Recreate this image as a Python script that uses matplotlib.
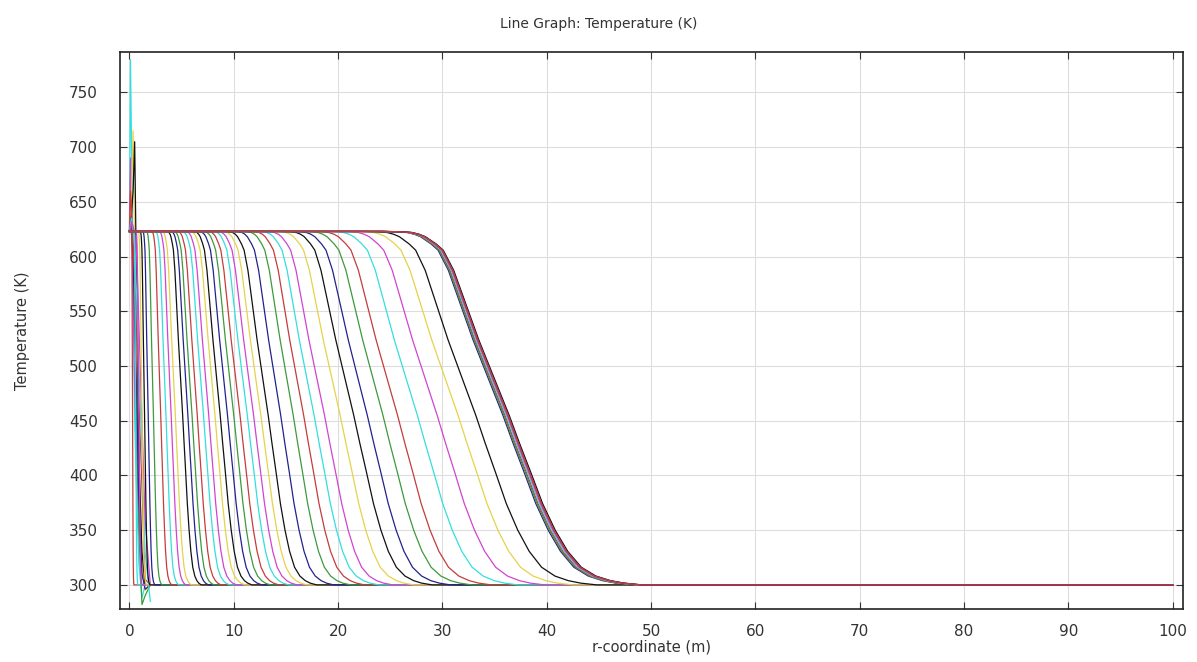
import numpy as np
import matplotlib.pyplot as plt

# colour cycle (blue, green, red, cyan, magenta, yellow, black)
colors = ['#22228c', '#3c9a3c', '#c43c3c', '#33dede', '#d044d0', '#e6d24a', '#111111']

# front positions (r where T ~ 460 K) for the successive curves
fronts = [0.3, 0.6, 0.9, 1.2, 1.45, 1.8, 2.3, 3.0, 3.5, 4.0, 4.4, 5.1, 5.6, 6.0,
          6.5, 7.1, 7.6, 8.2, 8.7, 9.4, 10.0, 10.6, 11.3, 11.9, 12.6, 13.3,
          14.5, 15.7, 16.7, 17.7, 18.7, 20.2, 21.5, 22.8, 24.3, 25.7, 27.6,
          29.5, 31.5, 33.2, 35.8, 35.9, 36.0, 36.1, 36.2, 36.3, 36.4, 36.3]

# shape of the last profile: distance from the front (m) and fraction of the rise
prof_dr = [-12.0, -10.5, -9.3, -8.6, -8.0, -7.0, -6.3, -5.3, -4.3, -2.9, -1.5, 0.0,
           1.0, 2.1, 3.2, 4.4, 5.6, 6.9, 8.3, 9.7, 11.0, 12.7]
prof_f = [1.0, 0.999, 0.997, 0.992, 0.985, 0.965, 0.947, 0.89, 0.808, 0.693, 0.59,
          0.48, 0.40, 0.316, 0.23, 0.155, 0.095, 0.05, 0.025, 0.012, 0.005, 0.0]
front_ref = 36.3

T_hot = 623.0
T_cold = 300.0

# noisy early curves near r = 0
spike_r = [0.0, 0.1, 0.2, 0.35, 0.5, 0.7, 0.9, 1.2, 1.5, 2.0]
spike_T = [
    ('#33dede', [623, 780, 700, 560, 450, 380, 320, 288, 300, 300]),
    ('#d044d0', [623, 690, 650, 560, 480, 420, 360, 310, 300, 300]),
    ('#e6d24a', [623, 640, 660, 715, 600, 500, 400, 320, 295, 300]),
    ('#111111', [623, 630, 640, 660, 705, 560, 420, 330, 300, 300]),
    ('#3c9a3c', [623, 625, 630, 620, 560, 450, 350, 282, 290, 300]),
    ('#22228c', [623, 630, 620, 600, 540, 470, 380, 310, 296, 300]),
    ('#c43c3c', [623, 660, 640, 610, 580, 530, 470, 390, 305, 300]),
    ('#33dede', [623, 630, 635, 625, 610, 560, 500, 420, 330, 285]),
    ('#d044d0', [623, 626, 632, 628, 620, 600, 540, 450, 360, 300]),
]

fig = plt.figure(figsize=(11.97, 6.62), dpi=100)
ax = fig.add_axes([0.1003, 0.0801, 0.888, 0.8414])

for c, T in spike_T:
    ax.plot(spike_r, T, color=c, lw=0.9)

dr = np.array(prof_dr)
f = np.array(prof_f)
for i, x0 in enumerate(fronts):
    w = max(x0 / front_ref, 0.01)
    r = np.concatenate([[0.0], x0 + dr * w, [100.0]])
    T = T_cold + (T_hot - T_cold) * np.concatenate([[1.0], f, [0.0]])
    ok = r >= 0
    ax.plot(r[ok], T[ok], color=colors[(i + 2) % len(colors)], lw=0.9)

# final profile on top
r = np.concatenate([[0.0], front_ref + dr, [100.0]])
T = T_cold + (T_hot - T_cold) * np.concatenate([[1.0], f, [0.0]])
ax.plot(r, T, color='#c43c3c', lw=1.0)

ax.set_xlim(-0.9, 101)
ax.set_ylim(278, 787)
ax.set_xticks(np.arange(0, 101, 10))
ax.set_yticks(np.arange(300, 751, 50))
ax.grid(True, color='#dddddd', lw=0.8)
ax.tick_params(direction='in', top=True, right=True, length=5, labelsize=11, colors='#333333')
ax.tick_params(axis='y', pad=16)
ax.tick_params(axis='x', pad=10.5)
for s in ax.spines.values():
    s.set_linewidth(1.2)
    s.set_color('#222222')

ax.set_xlabel('r-coordinate (m)', fontsize=10.5, color='#333333', labelpad=1)
ax.set_ylabel('Temperature (K)', fontsize=10.5, color='#333333', labelpad=28)
fig.suptitle('Line Graph: Temperature (K)', fontsize=10, color='#333333', y=0.975)

fig.savefig('out.png', dpi=100)
